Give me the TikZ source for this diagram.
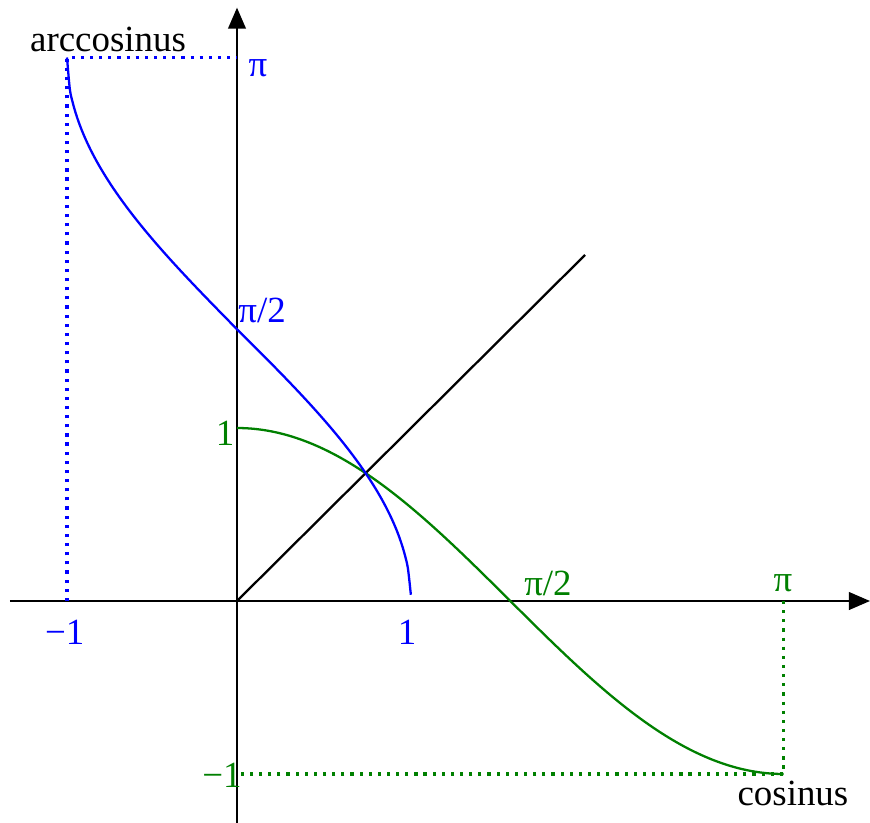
\documentclass[tikz,border=0pt]{standalone}
\usepackage{fontspec}
\setmainfont{Liberation Serif}
\usetikzlibrary{arrows.meta}
\definecolor{arcblue}{RGB}{0,0,255}
\definecolor{cosgreen}{RGB}{0,128,0}

\begin{document}
\begin{tikzpicture}[
  x=1.74cm, y=1.73cm,
  axis/.style={line width=0.65pt, -{Triangle[length=6pt,width=5pt]}},
  guide/.style={line width=0.9pt, dash pattern=on 0.9pt off 1.7pt},
  curve/.style={line width=0.65pt, smooth},
  every node/.style={font=\fontsize{10.5}{12}\selectfont, inner sep=1pt}
]
\useasboundingbox (-1.362,-1.283) rectangle (3.638,3.474);

% axes
\coordinate (xl) at (-1.305,0);
\coordinate (xr) at (3.638,0);
\coordinate (yb) at (0,-1.283);
\coordinate (yt) at (0,3.43);
\draw[axis] (xl) -- (xr);
\draw[axis] (yb) -- (yt);

% first bisector
\coordinate (o) at (0,0);
\coordinate (d) at (2,2);
\draw[line width=0.65pt] (o) -- (d);

% guide lines
\coordinate (am) at (-0.977,0);
\coordinate (ap) at (-0.977,3.1416);
\coordinate (yp) at (0,3.1416);
\coordinate (cp) at (3.1416,0);
\coordinate (cm) at (3.1416,-1);
\coordinate (ym) at (0,-1);
\draw[guide, arcblue] (am) -- (ap) -- (yp);
\draw[guide, cosgreen] (cp) -- (cm) -- (ym);

% curves
\draw[curve, cosgreen] plot[domain=0:3.1416, samples=80] (\x,{cos(\x r)});
\draw[curve, arcblue] plot[domain=-1:1, samples=120]
  ({ifthenelse(\x<0,0.977*\x,\x)},{acos(\x)*pi/180});

% labels
\node (larc) at (-0.741,3.243) {arccosinus};
\node (lcos) at (3.195,-1.110) {cosinus};
\node[text=arcblue] (lpi) at (0.121,3.081) {π};
\node[text=arcblue] (lpih) at (0.144,1.682) {π/2};
\node[text=arcblue] (lmone) at (-0.99,-0.179) {−1};
\node[text=arcblue] (lone) at (0.977,-0.179) {1};
\node[text=cosgreen] (gone) at (-0.069,0.971) {1};
\node[text=cosgreen] (gmone) at (-0.086,-1.006) {−1};
\node[text=cosgreen] (gpih) at (1.787,0.104) {π/2};
\node[text=cosgreen] (gpi) at (3.138,0.104) {π};
\end{tikzpicture}
\end{document}
